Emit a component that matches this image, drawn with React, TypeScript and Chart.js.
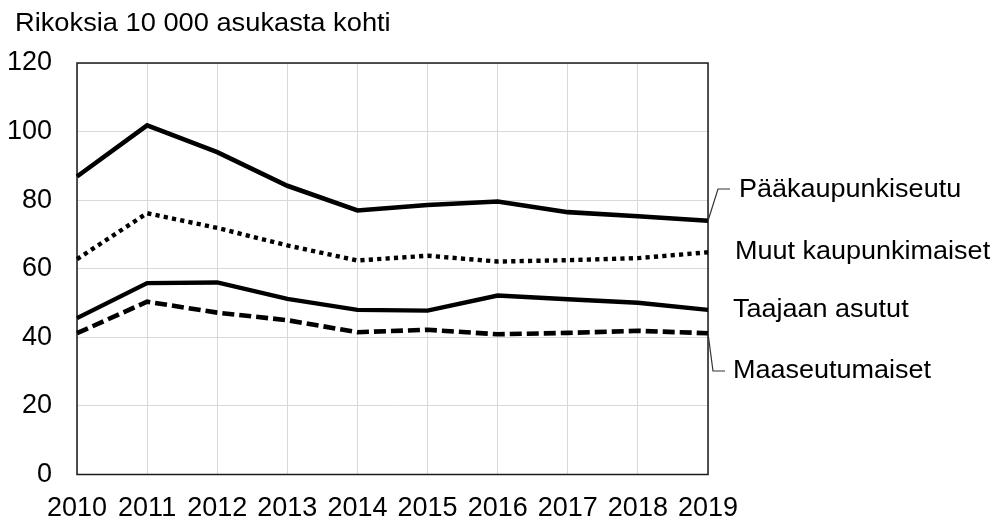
import React, { useEffect, useRef } from "react";
import { Chart, registerables } from "chart.js";

Chart.register(...registerables);

const years = ["2010", "2011", "2012", "2013", "2014", "2015", "2016", "2017", "2018", "2019"];
const paakaupunkiseutu = [86.9, 101.8, 94.0, 84.2, 77.0, 78.6, 79.6, 76.5, 75.3, 74.0];
const muutKaupunkimaiset = [62.8, 76.2, 71.9, 66.8, 62.4, 63.8, 62.1, 62.5, 63.1, 64.8];
const taajaanAsutut = [45.6, 55.8, 56.0, 51.2, 48.0, 47.8, 52.2, 51.1, 50.1, 48.0];
const maaseutumaiset = [41.2, 50.4, 47.2, 45.0, 41.5, 42.2, 40.9, 41.3, 41.9, 41.2];
const seriesNames = ["Pääkaupunkiseutu", "Muut kaupunkimaiset", "Taajaan asutut", "Maaseutumaiset"];
const yTitle = "Rikoksia 10 000 asukasta kohti";
const yMin = 0;
const yMax = 120;
const yStep = 20;

const FONT = '"Liberation Sans", Arial, sans-serif';

const decorPlugin = {
  id: "decor",
  beforeDatasetsDraw(chart: any) {
    const { ctx, chartArea } = chart;
    ctx.save();
    ctx.strokeStyle = "#1a1a1a";
    ctx.lineWidth = 1.5;
    ctx.strokeRect(chartArea.left, chartArea.top, chartArea.right - chartArea.left, chartArea.bottom - chartArea.top);
    ctx.restore();
  },
  afterDraw(chart: any) {
    const { ctx, chartArea } = chart;
    const ys = chart.scales.y;
    ctx.save();
    ctx.fillStyle = "#000";
    ctx.font = `25px ${FONT}`;
    ctx.textBaseline = "middle";
    ctx.textAlign = "left";
    // title
    ctx.save();
    ctx.translate(15, 24);
    ctx.scale(1.09, 1);
    ctx.fillText(yTitle, 0, 0);
    ctx.restore();

    const r = chartArea.right;
    const lastP = ys.getPixelForValue(paakaupunkiseutu[paakaupunkiseutu.length - 1]);
    const lastM = ys.getPixelForValue(maaseutumaiset[maaseutumaiset.length - 1]);
    const labelYs = [190, 252, 310, 371];
    const labelXs = [739, 735, 733, 733];

    // leader lines
    ctx.strokeStyle = "#333";
    ctx.lineWidth = 1.2;
    ctx.beginPath();
    ctx.moveTo(r, lastP);
    ctx.lineTo(r + 10, labelYs[0] - 1);
    ctx.lineTo(r + 22, labelYs[0] - 1);
    ctx.stroke();
    ctx.beginPath();
    ctx.moveTo(r, lastM);
    ctx.lineTo(r + 5, labelYs[3]);
    ctx.lineTo(r + 17, labelYs[3]);
    ctx.stroke();

    seriesNames.forEach((name, i) => {
      ctx.save();
      ctx.translate(labelXs[i], labelYs[i]);
      ctx.scale(1.08, 1);
      ctx.fillText(name, 0, 0);
      ctx.restore();
    });
    ctx.restore();
  },
};

export default function App() {
  const ref = useRef<HTMLCanvasElement | null>(null);
  useEffect(() => {
    if (!ref.current) return;
    const chart = new Chart(ref.current, {
      type: "line",
      data: {
        labels: years,
        datasets: [
          { label: seriesNames[0], data: paakaupunkiseutu, borderColor: "#000", borderWidth: 4.6, pointRadius: 0, fill: false, tension: 0, borderCapStyle: "butt" },
          { label: seriesNames[1], data: muutKaupunkimaiset, borderColor: "#000", borderWidth: 4.4, borderDash: [4.2, 4.2], pointRadius: 0, fill: false, tension: 0 },
          { label: seriesNames[2], data: taajaanAsutut, borderColor: "#000", borderWidth: 4.4, pointRadius: 0, fill: false, tension: 0 },
          { label: seriesNames[3], data: maaseutumaiset, borderColor: "#000", borderWidth: 4.6, borderDash: [12, 5], pointRadius: 0, fill: false, tension: 0 },
        ],
      },
      options: {
        animation: false,
        responsive: false,
        devicePixelRatio: 1,
        layout: { padding: { top: 63, right: 290, left: 0, bottom: 0 } },
        plugins: { legend: { display: false }, title: { display: false }, tooltip: { enabled: false } },
        scales: {
          x: {
            type: "category",
            offset: false,
            grid: { color: "#d9d9d9", lineWidth: 1, drawTicks: false },
            border: { display: false },
            ticks: { color: "#000", font: { family: FONT, size: 27 }, padding: 18, maxRotation: 0, autoSkip: false },
            afterFit(scale: any) { scale.height = 44.5; },
          },
          y: {
            min: yMin,
            max: yMax,
            grid: { color: "#d9d9d9", lineWidth: 1, drawTicks: false },
            border: { display: false },
            ticks: { stepSize: yStep, color: "#000", font: { family: FONT, size: 27 }, padding: 25 },
            afterFit(scale: any) { scale.width = 77; },
          },
        },
      },
      plugins: [decorPlugin],
    });
    return () => chart.destroy();
  }, []);
  return (
    <div style={{ position: "fixed", left: 0, top: 0, width: 998, height: 519, background: "#fff" }}>
      <canvas ref={ref} width={998} height={519} style={{ width: 998, height: 519, display: "block" }} />
    </div>
  );
}
